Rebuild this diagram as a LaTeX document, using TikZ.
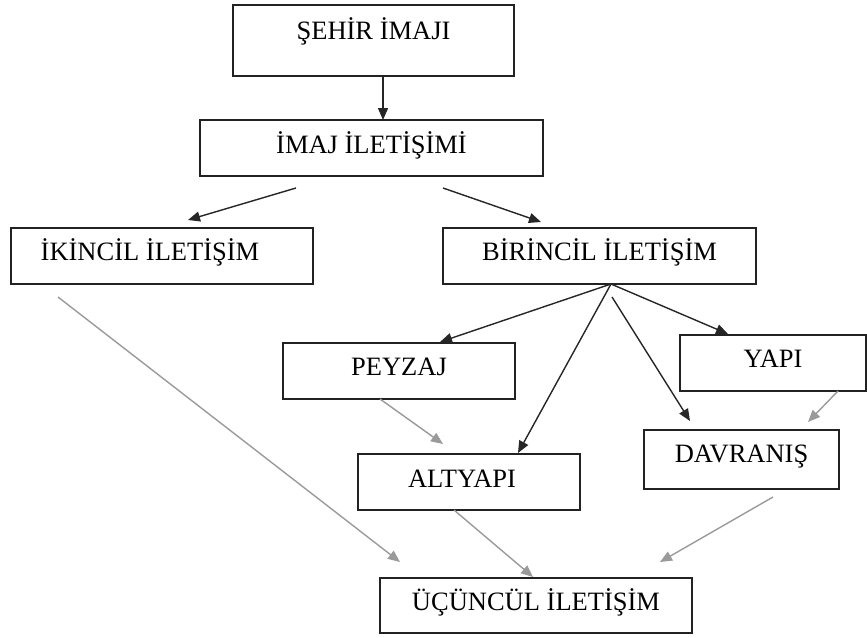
\documentclass[tikz,border=0pt]{standalone}
\usepackage{fontspec}
\setmainfont{Liberation Serif}
\usetikzlibrary{arrows.meta}
\definecolor{boxline}{HTML}{222222}
\definecolor{greyline}{HTML}{9A9A9A}
\tikzset{
  box/.style={draw=boxline, line width=1.6pt, inner sep=0pt, outer sep=0pt,
    font=\fontsize{26.5}{30}\selectfont, text height=17pt},
  blackarrow/.style={draw=black!85, line width=1.4pt,
    -{Triangle[length=12pt,width=10pt]}},
  greyarrow/.style={draw=greyline, line width=1.4pt,
    -{Triangle[length=12pt,width=10pt]}}
}
\begin{document}
\begin{tikzpicture}[x=1pt,y=-1pt]
\useasboundingbox (0,0) rectangle (867,637);

% boxes
\node[box, minimum width=281pt, minimum height=71pt, text depth=19pt] (sehir) at (373.5,40.5) {ŞEHİR İMAJI};
\node[box, minimum width=343pt, minimum height=56pt, text depth=6pt] (imaj) at (371.5,148) {İMAJ İLETİŞİMİ};
\node[box, minimum width=302pt, minimum height=56pt, text depth=8pt] (ikincil) at (162,256) {İKİNCİL İLETİŞİM\hspace*{24pt}};
\node[box, minimum width=313pt, minimum height=56pt, text depth=8pt] (birincil) at (599.5,256) {BİRİNCİL İLETİŞİM};
\node[box, minimum width=232pt, minimum height=56pt, text depth=9pt] (peyzaj) at (399,371) {PEYZAJ};
\node[box, minimum width=186pt, minimum height=56pt, text depth=9pt] (yapi) at (773,363) {YAPI};
\node[box, minimum width=222pt, minimum height=56pt, text depth=7pt] (altyapi) at (469,482) {ALTYAPI\hspace*{14pt}};
\node[box, minimum width=195pt, minimum height=59pt, text depth=11pt] (davranis) at (741.5,459.5) {DAVRANIŞ};
\node[box, minimum width=312pt, minimum height=55pt, text depth=8pt] (ucuncul) at (536,605.5) {ÜÇÜNCÜL İLETİŞİM};

% black connectors
\draw[blackarrow] ([xshift=9.5pt]sehir.south) -- ([xshift=9.5pt]sehir.south |- imaj.north);
\draw[blackarrow] ([xshift=-75.5pt,yshift=-12pt]imaj.south) -- ([xshift=26pt,yshift=8pt]ikincil.north);
\draw[blackarrow] ([xshift=71.5pt,yshift=-12pt]imaj.south) -- ([xshift=-58.5pt,yshift=6pt]birincil.north);
\draw[blackarrow] ([xshift=11.5pt]birincil.south) -- ([xshift=41pt,yshift=1pt]peyzaj.north);
\draw[blackarrow] ([xshift=11.5pt]birincil.south) -- ([xshift=49pt,yshift=1pt]altyapi.north);
\draw[blackarrow] ([xshift=12.5pt,yshift=-13pt]birincil.south) -- ([xshift=-51.5pt,yshift=9pt]davranis.north);
\draw[blackarrow] ([xshift=11.5pt]birincil.south) -- ([xshift=-45pt,yshift=1pt]yapi.north);

% grey connectors
\draw[greyarrow] ([xshift=-19pt]peyzaj.south) -- ([xshift=-26pt,yshift=10pt]altyapi.north);
\draw[greyarrow] ([xshift=65pt]yapi.south) -- ([xshift=66.5pt,yshift=8pt]davranis.north);
\draw[greyarrow] ([xshift=-104pt,yshift=-13pt]ikincil.south) -- ([xshift=-136pt,yshift=16pt]ucuncul.north);
\draw[greyarrow] ([xshift=-15pt]altyapi.south) -- ([xshift=-3pt,yshift=1pt]ucuncul.north);
\draw[greyarrow] ([xshift=31.5pt,yshift=-8pt]davranis.south) -- ([xshift=124pt,yshift=16pt]ucuncul.north);
\end{tikzpicture}
\end{document}
